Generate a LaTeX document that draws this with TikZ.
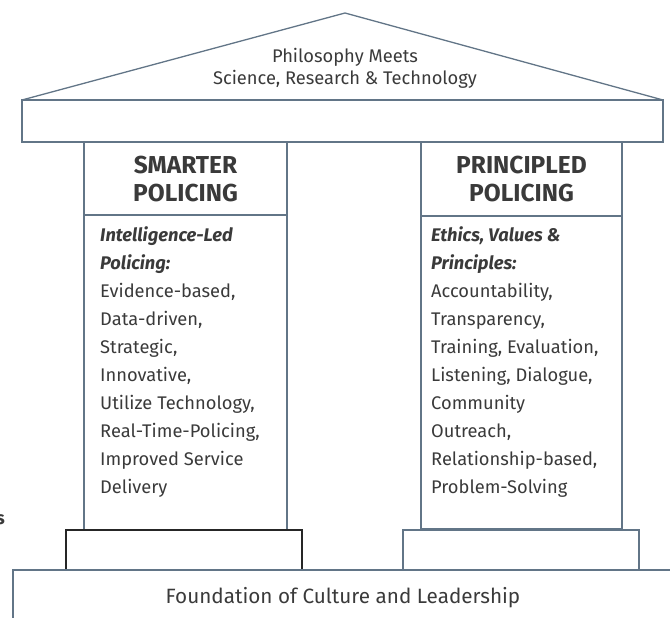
\documentclass[tikz,border=0pt]{standalone}
\usepackage{fontspec}
\setmainfont{Fira Sans}
\usetikzlibrary{positioning, calc}
\definecolor{pillarline}{HTML}{627587}
\definecolor{pillartext}{HTML}{3A3A3A}
\tikzset{
  outline/.style={draw=pillarline, line width=1.3pt},
  plinth/.style={draw=black!85, line width=1.2pt},
  titletext/.style={text=pillartext, font=\fontsize{24.5}{28}\selectfont\bfseries, align=center, inner sep=0pt},
  listtext/.style={text=pillartext, font=\fontsize{18.3}{28}\selectfont, align=left, anchor=north west, inner sep=0pt},
  plaintext/.style={text=pillartext, align=center, inner sep=0pt}
}
\begin{document}
\begin{tikzpicture}[x=1pt, y=-1pt]
\useasboundingbox (0,0) rectangle (670,618);
% 屋顶与横梁
\draw[outline] (22,100) coordinate (roofL) -- (345,13) coordinate (apex) -- (663,100) coordinate (roofR);
\draw[outline] (roofL) rectangle (663,142);
\node[plaintext, font=\fontsize{18.3}{22}\selectfont] (roof) at (345,68) {Philosophy Meets\\Science, Research \& Technology};
% 两根柱子
\draw[outline] (84,142) coordinate (leftTop) rectangle (287,530);
\draw[outline] (84,215) -- (287,215);
\draw[outline] (421,142) coordinate (rightTop) rectangle (622,529);
\draw[outline] (421,216) -- (622,216);
\node[titletext] (leftTitle) at (185.5,179) {SMARTER\\POLICING};
\node[titletext] (rightTitle) at (521.5,179) {PRINCIPLED\\POLICING};
% 柱身文字
\node[listtext] (leftList) at (100,226.5) {\textbf{\textit{Intelligence-Led}}\\\textbf{\textit{Policing:}}\\Evidence-based,\\Data-driven,\\Strategic,\\Innovative,\\Utilize Technology,\\Real-Time-Policing,\\Improved Service\\Delivery};
\node[listtext] (rightList) at (431,226.5) {\textbf{\textit{Ethics, Values \&}}\\\textbf{\textit{Principles:}}\\Accountability,\\Transparency,\\Training, Evaluation,\\Listening, Dialogue,\\Community\\Outreach,\\Relationship-based,\\Problem-Solving};
% 柱基与地基
\draw[plinth] (66,530) rectangle (302,570);
\draw[outline] (403,530) rectangle (639,570);
\draw[outline] (13,630) -- (13,570) -- (680,570);
\node[plaintext, font=\fontsize{20.7}{22}\selectfont] (foundation) at (343,598) {Foundation of Culture and Leadership};
% 左侧残字
\node[plaintext, font=\fontsize{18}{20}\selectfont\bfseries, anchor=east] (stray) at (5,520) {s};
\end{tikzpicture}
\end{document}
